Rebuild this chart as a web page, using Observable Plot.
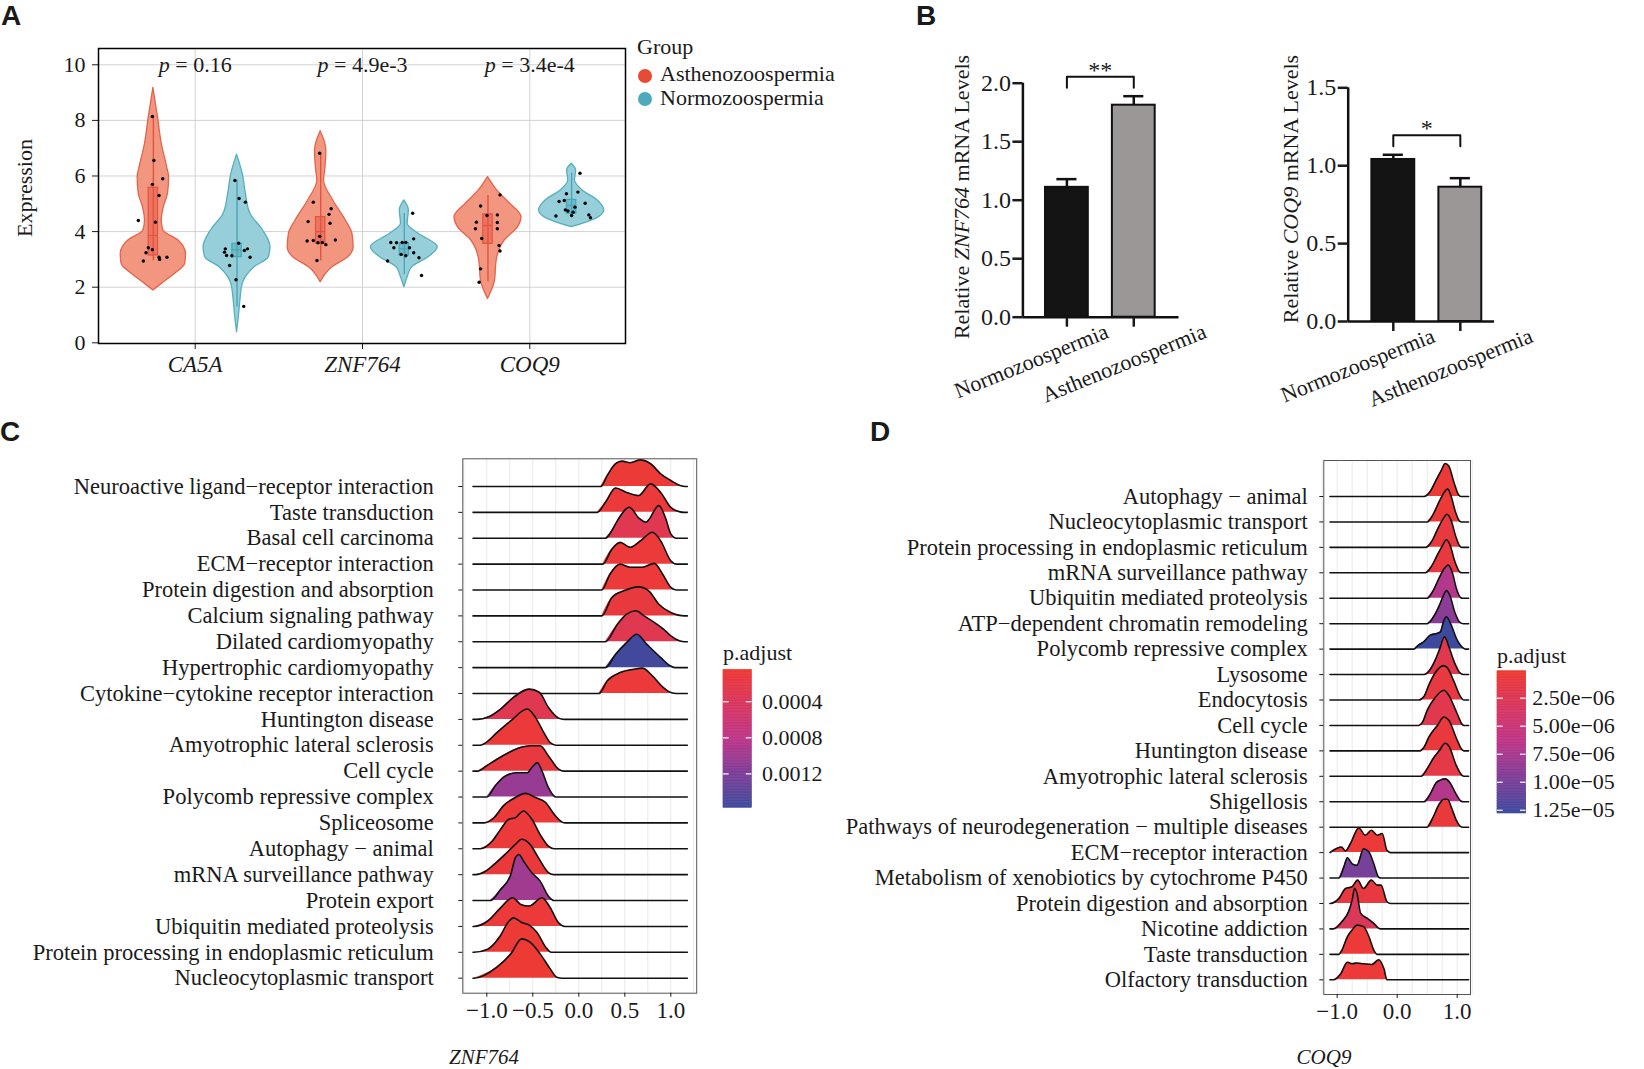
<!DOCTYPE html>
<html><head><meta charset="utf-8">
<script src="https://cdn.jsdelivr.net/npm/d3@7"></script>
<script src="https://cdn.jsdelivr.net/npm/@observablehq/plot@0.6"></script>
<style>
body{margin:0;background:#fff;}
#fig{position:relative;width:1644px;height:1069px;font-family:"Liberation Serif",serif;color:#1a1a1a;overflow:hidden;}
.letter{font-family:"Liberation Sans",Arial,sans-serif;font-weight:bold;font-size:28px;line-height:1;}
</style></head><body><div id="fig"></div>
<script>
// ---------------- DATA ----------------
// Panel A
const genes = ["CA5A", "ZNF764", "COQ9"];
const groupsA = ["Asthenozoospermia", "Normozoospermia"];
const pValues = ["0.16", "4.9e-3", "3.4e-4"];
// violin outlines: [expression, half-width (category units)]
const vCA5A_A = [[1.88,0],[2.12,0.05],[2.48,0.13],[2.84,0.19],[3.2,0.195],[3.68,0.15],[4.04,0.06],[4.4,0.05],[4.88,0.0625],[5.36,0.0875],[5.96,0.094],[6.3,0.083],[7.16,0.05],[8.1,0.028],[9.17,0]];
const vCA5A_N = [[0.38,0],[1.0,0.012],[1.52,0.02],[2.12,0.034],[2.72,0.105],[3.08,0.19],[3.44,0.2],[4.04,0.156],[4.64,0.08],[5.36,0.053],[6.08,0.034],[6.77,0]];
const vZNF_A = [[2.18,0],[2.72,0.07],[3.08,0.165],[3.44,0.197],[3.92,0.19],[4.4,0.15],[5.12,0.075],[5.84,0.02],[6.2,0.027],[6.92,0.034],[7.61,0]];
const vZNF_N = [[2.0,0],[2.36,0.02],[2.72,0.047],[3.08,0.145],[3.44,0.2],[3.92,0.086],[4.28,0.02],[4.76,0.027],[5.12,0]];
const vCOQ9_A = [[1.58,0],[1.88,0.023],[2.24,0.042],[2.96,0.052],[3.68,0.1],[4.16,0.18],[4.52,0.2],[5.0,0.133],[5.48,0.055],[5.96,0]];
const vCOQ9_N = [[4.16,0],[4.46,0.145],[4.76,0.195],[5.12,0.156],[5.48,0.066],[5.84,0.02],[6.2,0.027],[6.44,0]];
// box statistics, order: CA5A A/N, ZNF764 A/N, COQ9 A/N
const boxLo  = [2.95, 1.3, 2.95, 2.45, 2.2, 4.5];
const boxQ1  = [3.14, 3.08, 3.56, 3.14, 3.56, 4.64];
const boxMed = [3.86, 3.35, 4.0, 3.38, 4.22, 4.94];
const boxQ3  = [5.58, 3.56, 4.52, 3.58, 4.62, 5.14];
const boxHi  = [8.1, 5.85, 6.8, 4.65, 5.3, 6.1];
// sample points: [offset from gene position, expression]
const pCA5A_A = [[-0.256,8.14],[-0.247,6.56],[-0.194,5.9],[-0.256,5.7],[-0.216,5.3],[-0.34,4.4],[-0.2375,4.34],[-0.28,3.42],[-0.294,3.24],[-0.256,3.35],[-0.169,3.08],[-0.216,3.08],[-0.213,3.0],[-0.31,2.94]];
const pCA5A_N = [[0.2375,5.84],[0.2625,5.19],[0.3,5.06],[0.18,3.38],[0.26,3.58],[0.3125,3.38],[0.294,3.32],[0.175,3.26],[0.1875,3.14],[0.219,3.13],[0.328,3.08],[0.206,2.78],[0.244,2.27],[0.29,1.31]];
const pZNF_A = [[-0.256,6.82],[-0.294,5.06],[-0.1875,4.82],[-0.2,4.62],[-0.325,4.36],[-0.194,4.3],[-0.256,3.83],[-0.1625,3.7],[-0.331,3.66],[-0.294,3.68],[-0.266,3.6],[-0.24,3.61],[-0.219,3.53],[-0.272,2.96]];
const pZNF_N = [[0.3,4.66],[0.306,3.74],[0.169,3.61],[0.203,3.6],[0.2375,3.61],[0.259,3.61],[0.1875,3.42],[0.281,3.42],[0.306,3.24],[0.231,3.18],[0.259,3.13],[0.3375,3.06],[0.15,2.94],[0.353,2.42]];
const pCOQ9_A = [[-0.178,5.32],[-0.294,4.92],[-0.194,4.6],[-0.256,4.58],[-0.319,4.34],[-0.194,4.33],[-0.325,4.1],[-0.194,4.1],[-0.2875,3.75],[-0.184,3.5],[-0.178,3.3],[-0.294,2.66],[-0.303,2.18]];
const pCOQ9_N = [[0.3,6.1],[0.219,5.36],[0.2875,5.42],[0.175,5.08],[0.206,5.12],[0.331,5.02],[0.27,4.88],[0.2125,4.78],[0.228,4.74],[0.259,4.7],[0.353,4.6],[0.25,4.58],[0.156,4.56],[0.3625,4.5]];

// Panel B
const groupsB = ["Normozoospermia", "Asthenozoospermia"];
const znfMean = [1.11, 1.812], znfSem = [0.07, 0.077];
const coqMean = [1.04, 0.862], coqSem = [0.03, 0.058];
const sigZNF = "**", sigCOQ = "*";

// Panel C (ZNF764 GSEA ridges): terms top to bottom, p.adjust, density [x, height in rows]
const termsC = ["Neuroactive ligand−receptor interaction","Taste transduction","Basal cell carcinoma","ECM−receptor interaction","Protein digestion and absorption","Calcium signaling pathway","Dilated cardiomyopathy","Hypertrophic cardiomyopathy","Cytokine−cytokine receptor interaction","Huntington disease","Amyotrophic lateral sclerosis","Cell cycle","Polycomb repressive complex","Spliceosome","Autophagy − animal","mRNA surveillance pathway","Protein export","Ubiquitin mediated proteolysis","Protein processing in endoplasmic reticulum","Nucleocytoplasmic transport"];
const padjC = [0.00008,0.0001,0.0003,0.0001,0.0001,0.00015,0.0003,0.00155,0.0001,0.0003,0.0001,0.00015,0.00105,0.0001,0.0001,0.00012,0.001,0.0001,0.00008,0.00006];
const densC = [
 [[0.24,0],[0.31,0.43],[0.4,0.88],[0.47,0.98],[0.56,0.92],[0.67,1.03],[0.78,0.88],[0.89,0.49],[1.0,0.23],[1.1,0.04],[1.16,0]],
 [[0.2,0],[0.29,0.39],[0.4,0.94],[0.52,0.77],[0.65,0.65],[0.78,1.1],[0.89,0.77],[1.0,0.19],[1.1,0.02],[1.14,0]],
 [[0.29,0],[0.36,0.3],[0.42,0.68],[0.55,1.2],[0.65,0.79],[0.73,0.62],[0.87,1.26],[0.94,0.81],[1.0,0.17],[1.06,0]],
 [[0.26,0],[0.36,0.58],[0.45,0.84],[0.56,0.65],[0.67,0.9],[0.8,1.23],[0.89,0.9],[1.0,0.13],[1.06,0]],
 [[0.25,0],[0.34,0.62],[0.45,1.0],[0.56,0.88],[0.69,0.88],[0.82,1.03],[0.91,0.62],[1.0,0.1],[1.06,0]],
 [[0.25,0],[0.36,0.71],[0.49,0.97],[0.65,1.12],[0.76,0.97],[0.87,0.45],[1.0,0.13],[1.08,0.03],[1.15,0]],
 [[0.29,0],[0.42,0.68],[0.52,1.07],[0.62,1.2],[0.71,1.0],[0.82,0.75],[0.92,0.49],[1.0,0.23],[1.1,0.03],[1.15,0]],
 [[0.29,0],[0.4,0.52],[0.52,0.97],[0.63,1.29],[0.74,0.9],[0.89,0.39],[1.0,0.06],[1.05,0]],
 [[0.22,0],[0.31,0.49],[0.45,0.81],[0.6,0.94],[0.69,0.98],[0.8,0.68],[0.92,0.23],[1.0,0.04],[1.06,0]],
 [[-1.1,0],[-0.98,0.1],[-0.85,0.4],[-0.71,0.85],[-0.54,1.17],[-0.43,1.05],[-0.33,0.46],[-0.22,0.05],[-0.16,0]],
 [[-1.07,0],[-1.01,0.1],[-0.89,0.49],[-0.74,0.94],[-0.56,1.4],[-0.47,1.07],[-0.38,0.49],[-0.31,0.1],[-0.25,0]],
 [[-1.1,0],[-1.0,0.21],[-0.89,0.46],[-0.76,0.72],[-0.63,0.92],[-0.52,0.98],[-0.42,0.98],[-0.33,0.59],[-0.22,0.08],[-0.16,0]],
 [[-1.0,0],[-0.91,0.43],[-0.8,0.81],[-0.67,0.94],[-0.56,0.94],[-0.51,1.14],[-0.45,1.33],[-0.4,1.0],[-0.33,0.36],[-0.25,0]],
 [[-1.03,0],[-0.92,0.21],[-0.82,0.66],[-0.69,0.98],[-0.58,1.14],[-0.47,0.98],[-0.36,0.79],[-0.27,0.34],[-0.18,0.03],[-0.15,0]],
 [[-1.07,0],[-0.94,0.3],[-0.85,0.75],[-0.76,1.14],[-0.69,1.2],[-0.6,1.46],[-0.51,1.14],[-0.42,0.55],[-0.33,0.1],[-0.27,0]],
 [[-1.12,0],[-1.01,0.14],[-0.91,0.43],[-0.8,0.79],[-0.69,1.17],[-0.62,1.37],[-0.53,1.17],[-0.44,0.66],[-0.33,0.08],[-0.27,0]],
 [[-0.96,0],[-0.85,0.43],[-0.74,1.0],[-0.69,1.65],[-0.65,1.78],[-0.6,1.52],[-0.51,1.07],[-0.42,0.75],[-0.33,0.17],[-0.27,0]],
 [[-1.14,0],[-0.99,0.21],[-0.85,0.72],[-0.72,1.11],[-0.63,0.85],[-0.54,0.79],[-0.4,1.11],[-0.31,0.72],[-0.22,0.14],[-0.15,0]],
 [[-1.14,0],[-0.99,0.12],[-0.86,0.6],[-0.76,1.2],[-0.71,1.33],[-0.62,1.15],[-0.54,1.05],[-0.45,0.75],[-0.36,0.2],[-0.3,0]],
 [[-1.14,0],[-0.89,0.43],[-0.74,0.94],[-0.62,1.52],[-0.53,1.39],[-0.42,0.94],[-0.31,0.36],[-0.24,0.04],[-0.18,0]]
];
const rangeC = [-1.15, 1.18];
const legendCTicks = [0.0004, 0.0008, 0.0012];
const legendCLabels = ["0.0004", "0.0008", "0.0012"];
const legendCDomain = [0.000046, 0.001576];

// Panel D (COQ9 GSEA ridges)
const termsD = ["Autophagy − animal","Nucleocytoplasmic transport","Protein processing in endoplasmic reticulum","mRNA surveillance pathway","Ubiquitin mediated proteolysis","ATP−dependent chromatin remodeling","Polycomb repressive complex","Lysosome","Endocytosis","Cell cycle","Huntington disease","Amyotrophic lateral sclerosis","Shigellosis","Pathways of neurodegeneration − multiple diseases","ECM−receptor interaction","Metabolism of xenobiotics by cytochrome P450","Protein digestion and absorption","Nicotine addiction","Taste transduction","Olfactory transduction"];
const padjD = [5e-7,5e-7,1e-6,1e-6,7e-6,9e-6,1.28e-5,2e-6,1e-6,2e-6,8e-7,1.5e-6,7e-6,8e-7,5e-7,1e-5,1e-6,3e-6,5e-7,5e-7];
const densD = [
 [[0.45,0],[0.55,0.2],[0.65,0.65],[0.74,1.05],[0.8,1.3],[0.86,1.2],[0.94,0.6],[1.02,0.08],[1.06,0]],
 [[0.5,0],[0.6,0.3],[0.7,0.8],[0.78,1.15],[0.84,1.3],[0.9,1.0],[0.97,0.4],[1.04,0.03],[1.07,0]],
 [[0.48,0],[0.58,0.25],[0.68,0.75],[0.76,1.1],[0.83,1.3],[0.9,1.05],[0.98,0.4],[1.05,0.03],[1.08,0]],
 [[0.47,0],[0.57,0.25],[0.67,0.7],[0.75,1.05],[0.82,1.3],[0.88,1.1],[0.96,0.45],[1.04,0.04],[1.08,0]],
 [[0.5,0],[0.6,0.3],[0.7,0.8],[0.78,1.15],[0.85,1.3],[0.92,1.0],[0.99,0.35],[1.06,0.02],[1.09,0]],
 [[0.5,0],[0.6,0.25],[0.7,0.7],[0.77,1.1],[0.82,1.3],[0.88,1.1],[0.96,0.45],[1.05,0.04],[1.1,0]],
 [[0.28,0],[0.35,0.15],[0.45,0.3],[0.55,0.55],[0.67,0.62],[0.72,0.68],[0.78,1.14],[0.82,1.27],[0.89,1.0],[1.0,0.35],[1.11,0.03],[1.14,0]],
 [[0.45,0],[0.55,0.2],[0.62,0.5],[0.7,0.95],[0.79,1.48],[0.86,1.1],[0.95,0.5],[1.04,0.08],[1.1,0]],
 [[0.36,0],[0.45,0.15],[0.52,0.55],[0.64,1.09],[0.77,1.35],[0.83,1.28],[0.94,0.76],[1.05,0.15],[1.11,0]],
 [[0.36,0],[0.42,0.12],[0.5,0.59],[0.64,1.12],[0.78,1.38],[0.86,1.18],[1.0,0.46],[1.08,0.05],[1.11,0]],
 [[0.38,0],[0.45,0.15],[0.53,0.55],[0.67,1.0],[0.78,1.33],[0.86,1.2],[1.0,0.42],[1.08,0.05],[1.11,0]],
 [[0.4,0],[0.5,0.3],[0.6,0.7],[0.7,1.0],[0.8,1.3],[0.87,1.15],[0.98,0.45],[1.08,0.04],[1.11,0]],
 [[0.45,0],[0.55,0.3],[0.65,0.75],[0.72,0.85],[0.8,0.9],[0.88,0.75],[0.97,0.35],[1.06,0.03],[1.1,0]],
 [[0.5,0],[0.6,0.4],[0.7,0.9],[0.78,1.1],[0.84,1.1],[0.9,0.8],[0.98,0.3],[1.06,0.02],[1.09,0]],
 [[-1.12,0],[-1.01,0.16],[-0.93,0.22],[-0.86,0.07],[-0.78,0.35],[-0.64,0.97],[-0.53,0.68],[-0.43,0.88],[-0.33,0.68],[-0.25,0.75],[-0.17,0.09],[-0.11,0]],
 [[-0.97,0],[-0.89,0.43],[-0.83,0.8],[-0.75,0.56],[-0.67,0.5],[-0.56,1.15],[-0.47,1.02],[-0.39,0.56],[-0.31,0.04],[-0.27,0]],
 [[-1.11,0],[-0.97,0.2],[-0.86,0.59],[-0.75,0.66],[-0.66,0.92],[-0.56,0.59],[-0.43,0.92],[-0.33,0.72],[-0.27,0.72],[-0.17,0.07],[-0.11,0]],
 [[-1.06,0],[-0.92,0.29],[-0.81,0.68],[-0.75,1.14],[-0.71,1.6],[-0.67,1.4],[-0.61,0.62],[-0.5,0.42],[-0.39,0.22],[-0.31,0.03],[-0.28,0]],
 [[-0.97,0],[-0.92,0.17],[-0.83,0.69],[-0.75,0.96],[-0.67,1.15],[-0.56,1.09],[-0.47,0.69],[-0.39,0.17],[-0.33,0]],
 [[-1.06,0],[-0.94,0.24],[-0.83,0.69],[-0.75,0.63],[-0.68,0.66],[-0.56,0.63],[-0.42,0.6],[-0.31,0.79],[-0.22,0.43],[-0.17,0]]
];
const rangeD = [-1.12, 1.19];
const legendDTicks = [2.5e-6, 5e-6, 7.5e-6, 1e-5, 1.25e-5];
const legendDLabels = ["2.50e−06", "5.00e−06", "7.50e−06", "1.00e−05", "1.25e−05"];
const legendDDomain = [9e-8, 1.279e-5];

const gridQuarter = [-1.25,-1,-0.75,-0.5,-0.25,0,0.25,0.5,0.75,1,1.25];

// ---------------- helpers ----------------
const fig = document.getElementById("fig");
const FONT = "Liberation Serif";
function put(el, x, y) { el.style.position = "absolute"; el.style.left = x + "px"; el.style.top = y + "px"; fig.appendChild(el); return el; }
function label(str, x, y, css, transform) {
  const d = document.createElement("div");
  d.innerHTML = str;
  d.style.cssText = "white-space:nowrap;line-height:1;" + (css || "");
  put(d, x, y);
  if (transform) d.style.transform = transform;
  return d;
}
function rampColor(domain) {
  const [a, b] = domain;
  return {type: "linear", domain: [a, a + 0.5 * (b - a), a + 0.75 * (b - a), b],
          range: ["#EE3A32", "#BE3689", "#7E3E98", "#3C4A9D"], interpolate: "lab"};
}

// ---------------- Panel A ----------------
{
  const grpOff = [-0.25, 0.25];
  const violins = [vCA5A_A, vCA5A_N, vZNF_A, vZNF_N, vCOQ9_A, vCOQ9_N];
  const points = [pCA5A_A, pCA5A_N, pZNF_A, pZNF_N, pCOQ9_A, pCOQ9_N];
  const fillV = ["#F2967F", "#96CFD9"], strokeV = ["#E4644E", "#58AEBF"], boxC = ["#E35440", "#4AA6B8"];
  const marks = [
    Plot.gridY([2, 4, 6, 8, 10], {stroke: "#d2d2d2", strokeOpacity: 1}),
    Plot.gridX([0, 1, 2], {stroke: "#d2d2d2", strokeOpacity: 1})
  ];
  violins.forEach((v, k) => {
    const c = Math.floor(k / 2) + grpOff[k % 2], s = k % 2;
    marks.push(Plot.areaX(v, {y: d => d[0], x1: d => c - d[1], x2: d => c + d[1], fill: fillV[s], stroke: strokeV[s], strokeWidth: 1.3, curve: "monotone-y"}));
  });
  violins.forEach((v, k) => {
    const c = Math.floor(k / 2) + grpOff[k % 2], s = k % 2;
    const b = [{c, lo: boxLo[k], q1: boxQ1[k], med: boxMed[k], q3: boxQ3[k], hi: boxHi[k]}];
    marks.push(Plot.ruleX(b, {x: "c", y1: "lo", y2: "hi", stroke: boxC[s], strokeWidth: 1.4}));
    marks.push(Plot.rect(b, {x1: d => d.c - 0.028, x2: d => d.c + 0.028, y1: "q1", y2: "q3", fill: boxC[s], fillOpacity: 0.5, stroke: boxC[s], strokeWidth: 1.2}));
    marks.push(Plot.ruleY(b, {y: "med", x1: d => d.c - 0.028, x2: d => d.c + 0.028, stroke: boxC[s], strokeWidth: 1.2}));
    marks.push(Plot.dot(points[k], {x: d => Math.floor(k / 2) + d[0], y: d => d[1], r: 1.7, fill: "#000", stroke: "none"}));
  });
  marks.push(Plot.text(genes, {x: (d, i) => i, y: () => 10, text: (d, i) => "p = " + pValues[i], fontSize: 22}));
  marks.push(Plot.axisY({ticks: [0, 2, 4, 6, 8, 10], tickSize: 6, tickPadding: 7, fontSize: 22, label: null}));
  marks.push(Plot.axisX({ticks: [0, 1, 2], tickFormat: i => genes[i], tickSize: 6, tickPadding: 6, fontSize: 23, fontStyle: "italic", label: null}));
  marks.push(Plot.frame({stroke: "#000", strokeWidth: 1.5}));
  const svg = Plot.plot({width: 640, height: 385, marginLeft: 98, marginRight: 15, marginTop: 48, marginBottom: 42,
    x: {domain: [-0.578, 2.572]}, y: {domain: [-0.025, 10.586]},
    style: {fontFamily: FONT, fontSize: "22px", background: "transparent", color: "#1a1a1a", overflow: "visible"}, marks});
  svg.querySelectorAll("text").forEach(t => {
    if (t.textContent.startsWith("p = ")) {
      const rest = t.textContent.slice(1); t.textContent = "";
      const ts = document.createElementNS("http://www.w3.org/2000/svg", "tspan");
      ts.setAttribute("font-style", "italic"); ts.textContent = "p";
      t.appendChild(ts); t.appendChild(document.createTextNode(rest));
    }
  });
  put(svg, 0, 0);
  label("Expression", 25, 188, "font-size:22px;", "translate(-50%,-50%) rotate(-90deg)");
  // legend
  label("Group", 637, 47, "font-size:22px;", "translate(0,-50%)");
  const legCol = ["#E64B35", "#4DA9BC"];
  groupsA.forEach((g, i) => {
    const dot = document.createElement("div");
    dot.style.cssText = `width:14px;height:14px;border-radius:50%;background:${legCol[i]};`;
    put(dot, 638, 69 + i * 23);
    label(g, 660, 74 + i * 24, "font-size:22px;", "translate(0,-50%)");
  });
  label("A", 1, 2, "", null).className = "letter";
}

// ---------------- Panel B ----------------
function barPanel({means, sems, sig, yMax, yTicks, left, top, width, height, mL, mR, mT, mB, xDom, ppu}) {
  const bars = means.map((m, i) => ({i, m, e: sems[i], top: m + sems[i]}));
  const maxTop = d3.max(bars, d => d.top);
  const by = maxTop + 19.5 / ppu, leg = 11 / ppu;
  const bracket = [[0, by - leg], [0, by], [1, by], [1, by - leg]];
  const fills = ["#141414", "#9C9797"];
  const svg = Plot.plot({width, height, marginLeft: mL, marginRight: mR, marginTop: mT, marginBottom: mB,
    x: {domain: xDom}, y: {domain: [0, yMax]},
    style: {fontFamily: FONT, fontSize: "23px", background: "transparent", color: "#1a1a1a", overflow: "visible"},
    marks: [
      Plot.rect(bars, {x1: d => d.i - 0.32, x2: d => d.i + 0.32, y1: () => 0, y2: "m", fill: d => fills[d.i], stroke: "#111", strokeWidth: 2}),
      Plot.ruleX(bars, {x: "i", y1: "m", y2: "top", stroke: "#111", strokeWidth: 2.5}),
      Plot.ruleY(bars, {y: "top", x1: d => d.i - 0.15, x2: d => d.i + 0.15, stroke: "#111", strokeWidth: 2.5}),
      Plot.line(bracket, {x: d => d[0], y: d => d[1], stroke: "#111", strokeWidth: 2}),
      Plot.text([sig], {x: () => 0.5, y: () => by, text: d => d, lineAnchor: "bottom", dy: 1, fontSize: 24}),
      Plot.ruleX([xDom[0]], {y1: () => 0, y2: () => yMax, stroke: "#111", strokeWidth: 2.5}),
      Plot.ruleY([0], {x1: () => xDom[0], x2: () => xDom[1], stroke: "#111", strokeWidth: 2.5}),
      Plot.axisY({ticks: yTicks, tickFormat: d3.format(".1f"), tickSize: 10, tickPadding: 2, strokeWidth: 2.5, fontSize: 24, label: null}),
      Plot.axisX({ticks: [0, 1], tickFormat: () => "", tickSize: 10, strokeWidth: 2.5, label: null}),
      Plot.text([groupsB[0]], {x: () => 0, y: () => 0, text: d => d, rotate: -22, textAnchor: "end", lineAnchor: "bottom", dx: 43, dy: 20, fontSize: 22}),
      Plot.text([groupsB[1]], {x: () => 1, y: () => 0, text: d => d, rotate: -22, textAnchor: "end", lineAnchor: "bottom", dx: 74, dy: 20, fontSize: 22})
    ]});
  put(svg, left, top);
}
barPanel({means: znfMean, sems: znfSem, sig: sigZNF, yMax: 2, yTicks: [0, 0.5, 1, 1.5, 2], left: 900, top: 40, width: 300, height: 380,
  mL: 122.4, mR: 21.5, mT: 42.7, mB: 103.3, xDom: [-0.658, 1.676], ppu: 117});
barPanel({means: coqMean, sems: coqSem, sig: sigCOQ, yMax: 1.5, yTicks: [0, 0.5, 1, 1.5], left: 1230, top: 40, width: 300, height: 380,
  mL: 117.7, mR: 36, mT: 47.3, mB: 99, xDom: [-0.673, 1.51], ppu: 155.8});
label("Relative <i>ZNF764</i> mRNA Levels", 962, 197, "font-size:22px;", "translate(-50%,-50%) rotate(-90deg)");
label("Relative <i>COQ9</i> mRNA Levels", 1291, 189, "font-size:22px;", "translate(-50%,-50%) rotate(-90deg)");
label("B", 916, 2, "").className = "letter";

// ---------------- Panels C & D ----------------
function ridgePanel({terms, padj, dens, range, legendDomain, xTicks, left, top, width, height, mL, mR, mT, mB, xDom, yDom, tickPadding}) {
  const n = terms.length;
  const marks = [Plot.gridX(gridQuarter, {stroke: "#e9e9e9", strokeOpacity: 1, strokeWidth: 1})];
  dens.forEach((pts, i) => {
    const yb = n - i;
    const full = [[range[0], 0], ...pts, [range[1], 0]];
    marks.push(Plot.areaY(pts, {x: d => d[0], y1: () => yb, y2: d => yb + d[1], fill: () => padj[i], curve: "monotone-x"}));
    marks.push(Plot.line(full, {x: d => d[0], y: d => yb + d[1], stroke: "#111", strokeWidth: 1.6, curve: "monotone-x"}));
  });
  marks.push(Plot.frame({stroke: "#555", strokeWidth: 1}));
  marks.push(Plot.axisY({ticks: d3.range(1, n + 1), tickFormat: v => terms[n - v], tickSize: 4, tickPadding, fontSize: 22.5, label: null}));
  marks.push(Plot.axisX({ticks: xTicks, tickFormat: d3.format(".1f"), tickSize: 4, tickPadding: 4, fontSize: 23, label: null}));
  const svg = Plot.plot({width, height, marginLeft: mL, marginRight: mR, marginTop: mT, marginBottom: mB,
    x: {domain: xDom}, y: {domain: yDom}, color: rampColor(legendDomain),
    style: {fontFamily: FONT, fontSize: "22px", background: "transparent", color: "#1a1a1a", overflow: "visible"}, marks});
  put(svg, left, top);
}
function colorLegend({domain, ticks, labels, left, top, width, height, mT, mB, barW, dx}) {
  const N = 90;
  const steps = d3.range(N).map(i => [domain[0] + (domain[1] - domain[0]) * i / N, domain[0] + (domain[1] - domain[0]) * (i + 1) / N]);
  const svg = Plot.plot({width, height, marginLeft: 0, marginRight: width - barW, marginTop: mT, marginBottom: mB,
    x: {domain: [0, 1], axis: null}, y: {domain, reverse: true, axis: null}, color: rampColor(domain),
    style: {fontFamily: FONT, fontSize: "22px", background: "transparent", color: "#1a1a1a", overflow: "visible"},
    marks: [
      Plot.rect(steps, {x1: () => 0, x2: () => 1, y1: d => d[0], y2: d => d[1], fill: d => (d[0] + d[1]) / 2, stroke: d => (d[0] + d[1]) / 2, strokeWidth: 0.6}),
      Plot.ruleY(ticks, {y: d => d, x1: () => 0, x2: () => 0.2, stroke: "white", strokeWidth: 1.2}),
      Plot.ruleY(ticks, {y: d => d, x1: () => 0.8, x2: () => 1, stroke: "white", strokeWidth: 1.2}),
      Plot.text(ticks, {x: () => 1, y: d => d, text: (d, i) => labels[i], textAnchor: "start", dx, fontSize: 22})
    ]});
  put(svg, left, top);
}

ridgePanel({terms: termsC, padj: padjC, dens: densC, range: rangeC, legendDomain: legendCDomain, xTicks: [-1, -0.5, 0, 0.5, 1],
  left: 0, top: 420, width: 700, height: 620, mL: 462.3, mR: 3.8, mT: 38.3, mB: 47.3, xDom: [-1.261, 1.2815], yDom: [0.42, 21.07], tickPadding: 25});
colorLegend({domain: legendCDomain, ticks: legendCTicks, labels: legendCLabels, left: 723.3, top: 660, width: 120, height: 160, mT: 9.3, mB: 12.7, barW: 28.4, dx: 10});
label("p.adjust", 723, 653, "font-size:22px;", "translate(0,-50%)");
label("<i>ZNF764</i>", 484, 1057, "font-size:21px;", "translate(-50%,-50%)");
label("C", 0, 418, "").className = "letter";

ridgePanel({terms: termsD, padj: padjD, dens: densD, range: rangeD, legendDomain: legendDDomain, xTicks: [-1, 0, 1],
  left: 780, top: 420, width: 700, height: 620, mL: 543.3, mR: 10, mT: 40, mB: 46, xDom: [-1.223, 1.2217], yDom: [0.422, 21.415], tickPadding: 12});
colorLegend({domain: legendDDomain, ticks: legendDTicks, labels: legendDLabels, left: 1497.3, top: 660, width: 140, height: 165, mT: 10.7, mB: 12, barW: 28.7, dx: 6});
label("p.adjust", 1497, 656, "font-size:22px;", "translate(0,-50%)");
label("<i>COQ9</i>", 1324, 1057, "font-size:21px;", "translate(-50%,-50%)");
label("D", 870, 418, "").className = "letter";
</script></body></html>
